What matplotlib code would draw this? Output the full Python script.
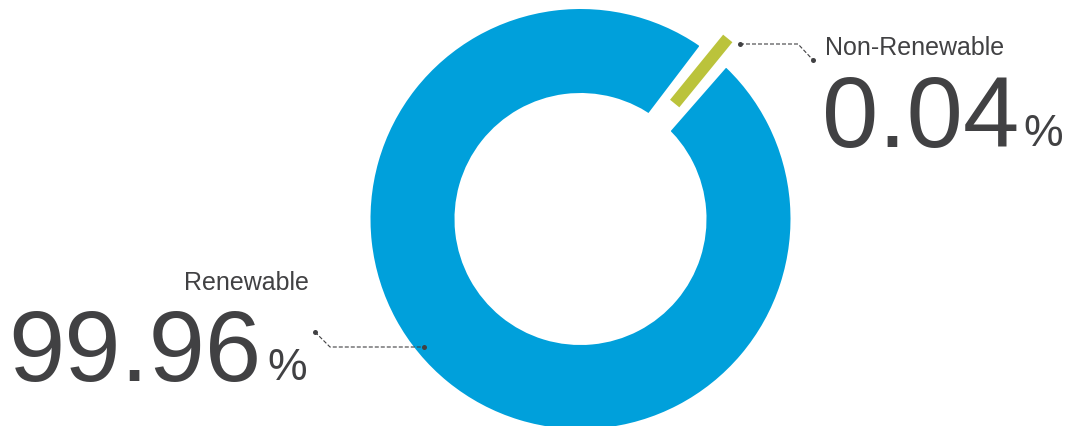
import numpy as np
import matplotlib
matplotlib.use('Agg')
import matplotlib.pyplot as plt

# Energy mix shares (percent)
labels = ['Renewable', 'Non-Renewable']
shares = [99.96, 0.04]
value_text = ['99.96', '0.04']

BLUE = '#00a0db'
GREEN = '#bbc33b'
TEXT = '#414143'

# tiny slices get a minimum visible angle, like the original chart does
MIN_SHARE = 1.11
display = np.maximum(np.array(shares), MIN_SHARE)

W, H = 1069, 427
fig = plt.figure(figsize=(W / 100, H / 100), dpi=100)
ax = fig.add_axes([0, 0, 1, 1])

cx, cy, R, r_in = 580.5, 207, 210, 126
gap_px = 20  # white stroke between slices, in pixels
start = 50.8 + 360 * display[1] / display.sum() / 2
wedges, _ = ax.pie(display, colors=[BLUE, GREEN], startangle=start,
                   center=(cx, cy), radius=R + gap_px / 2,
                   wedgeprops=dict(width=R - r_in + gap_px, linewidth=gap_px * 0.72,
                                   edgecolor='white'))

# the small slice is drawn as a pulled-out bar along its mid angle
g = wedges[1]
g.set_visible(False)
mid = np.deg2rad((g.theta1 + g.theta2) / 2)
pull = 23
ax.plot([cx + (r_in + pull) * np.cos(mid), cx + (R + pull) * np.cos(mid)],
        [cy + (r_in + pull) * np.sin(mid), cy + (R + pull) * np.sin(mid)],
        color=GREEN, lw=8.6, solid_capstyle='butt', zorder=3)

ax.set_xlim(0, W)
ax.set_ylim(0, H)
ax.set_aspect('equal')
ax.axis('off')

font = 'Liberation Sans'
dash = (0, (3.6, 1.8))

# Non-Renewable label (right side)
ax.plot([740, 798, 813], [382, 382, 366], color=TEXT, lw=0.8, ls=dash)
ax.plot([740, 813], [382, 366], 'o', color=TEXT, ms=3.6, mec='none', zorder=4)
ax.text(825, 372, labels[1], fontsize=18, color=TEXT, family=font,
        va='baseline', ha='left')
ax.text(822, 280.5, value_text[1], fontsize=73, color=TEXT, family=font,
        va='baseline', ha='left')
ax.text(1023, 281, '%', fontsize=32, color=TEXT, family=font,
        va='baseline', ha='left')

# Renewable label (left side)
ax.plot([315, 330, 424], [94, 79, 79], color=TEXT, lw=0.8, ls=dash, zorder=4)
ax.plot([315, 424], [94, 79], 'o', color=TEXT, ms=3.6, mec='none', zorder=4)
ax.text(309, 136.5, labels[0], fontsize=18, color=TEXT, family=font,
        va='baseline', ha='right')
ax.text(261, 46.3, value_text[0], fontsize=73, color=TEXT, family=font,
        va='baseline', ha='right')
ax.text(307, 47, '%', fontsize=32, color=TEXT, family=font,
        va='baseline', ha='right')

fig.savefig('out.png', dpi=100)
